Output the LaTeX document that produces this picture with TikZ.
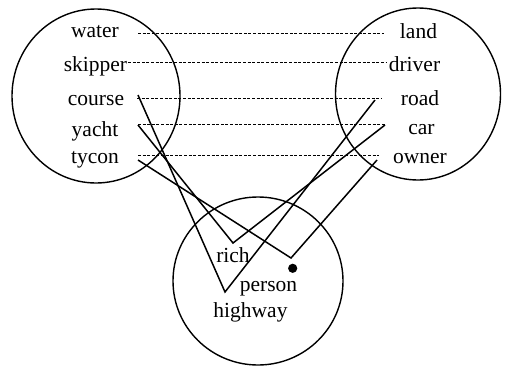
\documentclass[tikz,border=0pt]{standalone}
\usepackage{fontspec}
\setmainfont{Liberation Serif}
\begin{document}
\begin{tikzpicture}[x=1pt,y=-1pt,
  word/.style={anchor=base, inner sep=0pt, font=\fontsize{21.5}{25}\selectfont},
  ring/.style={line width=1.4pt},
  link/.style={line width=1.5pt, line join=miter},
  pair/.style={line width=0.9pt, dash pattern=on 3pt off 1.6pt}]
\useasboundingbox (0,0) rectangle (508,367);
% circles
\draw[ring] (96,96) ellipse [x radius=84, y radius=87];
\draw[ring] (418,94) ellipse [x radius=82.5, y radius=86];
\draw[ring] (258,281) ellipse [x radius=85, y radius=84];
% left words
\node[word] (water)   at (95,37.7)  {water};
\node[word] (skipper) at (95.5,71.7) {skipper};
\node[word] (course)  at (96,105.5) {course};
\node[word] (yacht)   at (95,136.5) {yacht};
\node[word] (tycon)   at (95,163.3) {tycon};
% right words
\node[word] (land)   at (418.5,38.3) {land};
\node[word] (driver) at (414.5,71.7) {driver};
\node[word] (road)   at (420,105)   {road};
\node[word] (car)    at (421.5,134.3) {car};
\node[word] (owner)  at (420,163.3) {owner};
% bottom words
\node[word] (rich)    at (233,262) {rich};
\node[word] (person)  at (268.5,291) {person};
\node[word] (highway) at (250.5,317) {highway};
% endpoints
\coordinate (wa) at (138,33.5);  \coordinate (la) at (384,33.5);
\coordinate (sk) at (128,62);    \coordinate (dr) at (386,62);
\coordinate (co) at (137,98);    \coordinate (ro) at (382,98);
\coordinate (ya) at (138,124.5); \coordinate (ca) at (386,124.5);
\coordinate (ty) at (138,155.7); \coordinate (ow) at (379,155.7);
\coordinate (cs) at (138,95);    \coordinate (v1) at (225,292); \coordinate (re) at (375,100);
\coordinate (ys) at (138,125);   \coordinate (v2) at (233,243); \coordinate (ce) at (385,125);
\coordinate (ts) at (138,160);   \coordinate (v3) at (291,258); \coordinate (oe) at (377,160);
% dashed pairs
\draw[pair] (wa) -- (la);
\draw[pair] (sk) -- (dr);
\draw[pair] (co) -- (ro);
\draw[pair] (ya) -- (ca);
\draw[pair] (ty) -- (ow);
% solid links
\draw[link] (cs) -- (v1) -- (re);
\draw[link] (ys) -- (v2) -- (ce);
\draw[link] (ts) -- (v3) -- (oe);
% dot
\fill (292.7,268.3) circle [radius=4.6];
\end{tikzpicture}
\end{document}
